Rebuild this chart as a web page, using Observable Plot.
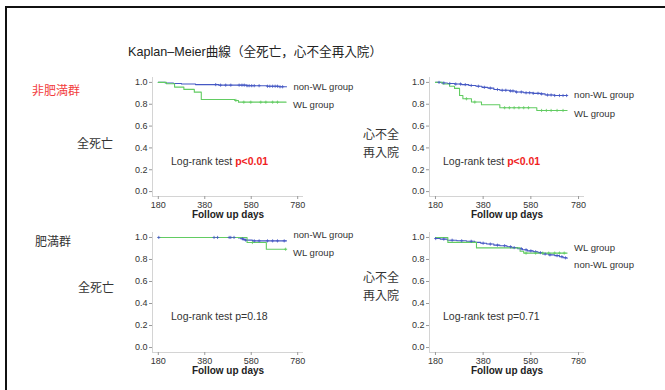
<!DOCTYPE html>
<html><head><meta charset="utf-8">
<script src="https://cdn.jsdelivr.net/npm/d3@7"></script>
<script src="https://cdn.jsdelivr.net/npm/@observablehq/plot@0.6"></script>
<style>
body{margin:0;background:#fff;}
#page{position:relative;width:665px;height:390px;overflow:hidden;font-family:"Liberation Sans","Noto Sans CJK JP",sans-serif;color:#333;background:#fff;}
.frame{position:absolute;left:5px;top:6px;width:700px;height:420px;border-top:2.5px solid #111;border-left:2.5px solid #111;}
.t{position:absolute;white-space:nowrap;line-height:1;}
.cjk{font-family:"Noto Sans CJK JP","Liberation Sans",sans-serif;}
.panel{position:absolute;}
</style></head>
<body><div id="page"><div class="frame"></div></div>
<script>
// ---------------- data ----------------
const title = "Kaplan–Meier曲線（全死亡，心不全再入院）";
const groupNames = ["non-WL group", "WL group"];
const rowLabels = ["非肥満群", "肥満群"];
const outcomeLabels = ["全死亡", "心不全\n再入院"];
const xTicks = [180, 380, 580, 780];
const yTicks = [0, 0.2, 0.4, 0.6, 0.8, 1.0];
const xLabel = "Follow up days";
const testLabel = "Log-rank test ";
const pValues = ["p<0.01", "p<0.01", "p=0.18", "p=0.71"];
const pSignificant = [true, true, false, false];

// step curves: [day, survival]
const mortNonObeseNonWL = [[180,1.0],[210,0.995],[245,0.99],[280,0.985],[340,0.98],[440,0.975],[560,0.97],[650,0.965],[700,0.96],[732,0.96]];
const mortNonObeseWL = [[180,1.0],[215,0.988],[250,0.957],[290,0.936],[335,0.911],[365,0.844],[510,0.835],[525,0.819],[730,0.819]];
const hfNonObeseNonWL = [[180,1.0],[205,0.995],[230,0.99],[260,0.985],[290,0.98],[320,0.972],[350,0.965],[375,0.955],[400,0.948],[425,0.935],[450,0.928],[490,0.922],[515,0.912],[550,0.905],[590,0.9],[620,0.895],[640,0.885],[680,0.88],[732,0.88]];
const hfNonObeseWL = [[180,1.0],[211,0.985],[239,0.965],[260,0.945],[281,0.88],[295,0.85],[331,0.82],[373,0.795],[450,0.768],[605,0.743],[732,0.743]];
const mortObeseNonWL = [[180,1.0],[525,0.995],[535,0.988],[545,0.982],[555,0.976],[585,0.969],[732,0.969]];
const mortObeseWL = [[180,1.0],[562,0.954],[645,0.893],[730,0.893]];
const hfObeseNonWL = [[180,0.99],[200,0.985],[230,0.975],[270,0.97],[310,0.965],[345,0.955],[370,0.948],[395,0.94],[425,0.93],[450,0.925],[480,0.915],[500,0.908],[525,0.898],[545,0.888],[565,0.878],[590,0.87],[610,0.862],[630,0.85],[655,0.842],[680,0.835],[700,0.825],[715,0.815],[732,0.81]];
const hfObeseWL = [[180,1.0],[232,0.955],[352,0.905],[535,0.875],[550,0.858],[732,0.858]];

// censored observation days
const cMortNonObeseNonWL = [427,448,470,492,528,540,550,562,571,582,593,614,650,660,672,683,693,704,715];
const cMortNonObeseWL = [514,548,578,621,643,672,693];
const cHfNonObeseNonWL = [195,215,240,265,285,305,330,360,385,410,440,460,475,495,505,520,540,560,575,590,610,625,650,665,680,700,715,730];
const cHfNonObeseWL = [310,345,470,490,510,530,550,570,625,645,665,690,715];
const cMortObeseNonWL = [182,420,435,485,492,506,542,549,556,593,614,650,672,693,722];
const cMortObeseWL = [585,728];
const cHfObeseNonWL = [181,215,250,290,330,380,410,440,470,495,510,540,560,580,600,620,640,660,690,710,725];
const cHfObeseWL = [560,600,630,655,680,700,720];

// ---------------- drawing ----------------
const BLUE = "#4558c4", GREEN = "#62cc62";
const page = document.getElementById("page");

function survAt(curve, d) {
  let s = curve[0][1];
  for (const [day, v] of curve) if (day <= d) s = v;
  return s;
}

function km(curves, censors, o) {
  const rows = [], cens = [], ends = [];
  curves.forEach((c, gi) => {
    c.forEach(([day, s]) => rows.push({day, s, group: groupNames[gi]}));
    censors[gi].forEach(d => cens.push({day: d, s: survAt(c, d), group: groupNames[gi]}));
    const last = c[c.length - 1];
    ends.push({day: last[0], s: last[1], group: groupNames[gi]});
  });
  const plot = Plot.plot({
    width: o.w, height: 160,
    marginLeft: o.ml, marginRight: o.mr, marginTop: 7, marginBottom: o.mb,
    style: {fontFamily: "Liberation Sans, Arial, sans-serif", fontSize: "9px", color: "#333", background: "transparent", overflow: "visible"},
    x: {domain: [155, 805]},
    y: {domain: [-0.045, 1.045]},
    color: {domain: groupNames, range: [BLUE, GREEN]},
    marks: [
      Plot.ruleX([155], {stroke: "#d4d4d4"}),
      Plot.ruleY([-0.045], {stroke: "#d4d4d4"}),
      Plot.axisX({ticks: xTicks, tickSize: 3, tickPadding: 2, label: null, stroke: "#999", fill: "#333", fontSize: 9}),
      Plot.axisY({ticks: yTicks, tickSize: 3, tickPadding: 2, label: null, tickFormat: d3.format(".1f"), stroke: "#999", fill: "#333", fontSize: 9}),
      Plot.line(rows, {x: "day", y: "s", z: "group", stroke: "group", curve: "step-after", strokeWidth: 1.1}),
      Plot.dot(cens, {x: "day", y: "s", stroke: "group", symbol: "plus", r: 1.1, strokeWidth: 0.8}),
      Plot.text([ends[0]], {x: "day", y: "s", text: "group", textAnchor: "start", dx: 7, dy: o.dy[0], fill: "#333", fontSize: 9.5}),
      Plot.text([ends[1]], {x: "day", y: "s", text: "group", textAnchor: "start", dx: 7, dy: o.dy[1], fill: "#333", fontSize: 9.5}),
      Plot.text([xLabel], {frameAnchor: "bottom", dy: o.labDy, fontWeight: "bold", fontSize: 10, fill: "#222"})
    ]
  });
  const div = document.createElement("div");
  div.className = "panel";
  div.style.left = o.left + "px";
  div.style.top = o.top + "px";
  div.style.width = o.w + "px";
  div.appendChild(plot);
  page.appendChild(div);
}

km([mortNonObeseNonWL, mortNonObeseWL], [cMortNonObeseNonWL, cMortNonObeseWL],
   {left: 110, top: 70, w: 250, ml: 42, mr: 57, mb: 34, dy: [0, 3], labDy: 21.5});
km([hfNonObeseNonWL, hfNonObeseWL], [cHfNonObeseNonWL, cHfNonObeseWL],
   {left: 385, top: 70, w: 265, ml: 44, mr: 66, mb: 34, dy: [-1, 3], labDy: 21.5});
km([mortObeseNonWL, mortObeseWL], [cMortObeseNonWL, cMortObeseWL],
   {left: 110, top: 225, w: 250, ml: 42, mr: 57, mb: 33, dy: [-6, 4], labDy: 21});
km([hfObeseNonWL, hfObeseWL], [cHfObeseNonWL, cHfObeseWL],
   {left: 385, top: 225, w: 265, ml: 44, mr: 66, mb: 33, dy: [7, -5], labDy: 21});

// ---------------- HTML text ----------------
function addText(txt, left, cy, size, extra) {
  const d = document.createElement("div");
  d.className = "t" + (extra && extra.cjk ? " cjk" : "");
  d.style.left = left + "px";
  d.style.fontSize = size + "px";
  const lh = (extra && extra.lh) || size;
  d.style.lineHeight = lh + "px";
  const lines = txt.split("\n");
  d.style.top = (cy - lh * lines.length / 2) + "px";
  d.innerHTML = lines.map(l => l.replace(/</g, "&lt;")).join("<br>");
  if (extra && extra.color) d.style.color = extra.color;
  page.appendChild(d);
  return d;
}

addText(title, 128, 52, 12.6, {color: "#222"});
addText(rowLabels[0], 32, 90, 12, {cjk: true, color: "#f23c3c"});
addText(rowLabels[1], 35, 241, 12, {cjk: true, color: "#333"});
addText(outcomeLabels[0], 77, 143, 12, {cjk: true});
addText(outcomeLabels[1], 363, 142.5, 12, {cjk: true, lh: 17.5});
addText(outcomeLabels[0], 78, 287, 12, {cjk: true});
addText(outcomeLabels[1], 363, 285.5, 12, {cjk: true, lh: 17.5});

const testPos = [[171, 161], [443, 161], [171, 316], [443, 316]];
testPos.forEach(([x, y], i) => {
  const d = addText("", x, y, 10.5, {});
  const a = document.createElement("span");
  a.textContent = testLabel;
  const b = document.createElement("span");
  b.textContent = pValues[i];
  if (pSignificant[i]) { b.style.color = "#f01e1e"; b.style.fontWeight = "bold"; }
  d.appendChild(a); d.appendChild(b);
});
</script>
</body></html>
